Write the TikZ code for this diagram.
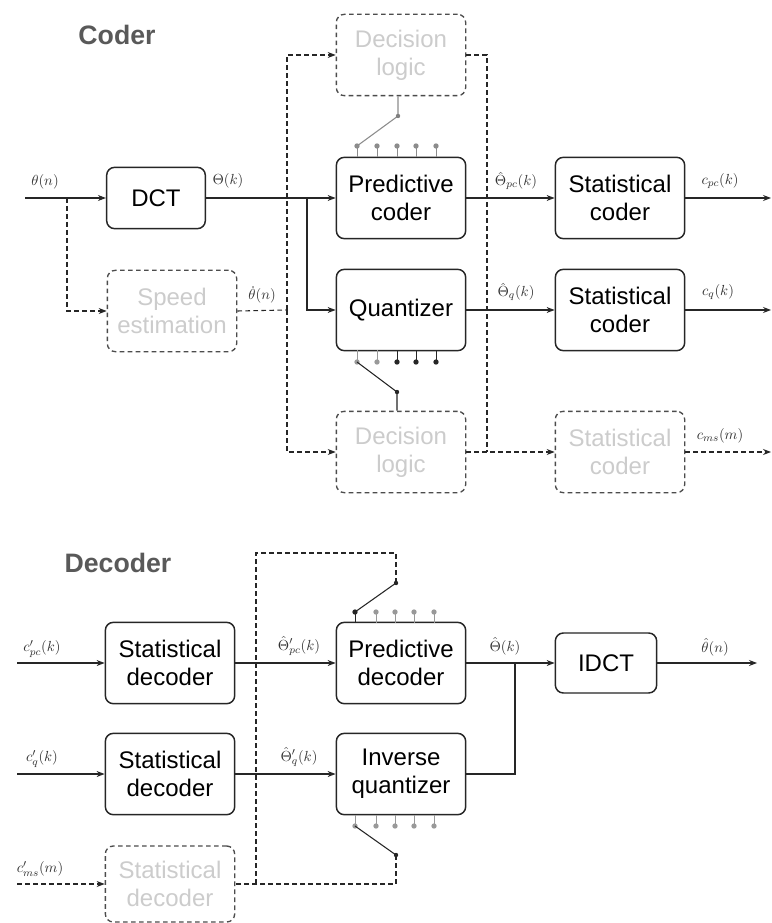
\documentclass[tikz,border=0pt]{standalone}
\usepackage{fontspec}
\setmainfont{Liberation Sans}
\usetikzlibrary{arrows.meta,calc}
\begin{document}
\begin{tikzpicture}[x=0.75pt,y=-0.75pt,
  blk/.style={draw=black!85, line width=1.1pt, rounded corners=6pt, align=center,
    font=\fontsize{18}{21}\selectfont, inner sep=0pt, minimum width=97pt, minimum height=61pt},
  fblk/.style={blk, dash pattern=on 3.5pt off 2.5pt, draw=black!70, line width=1pt, text=black!20},
  ln/.style={line width=0.8pt, draw=black!85},
  arr/.style={ln, -{Stealth[length=6pt,width=4.5pt]}},
  dsh/.style={dash pattern=on 3.5pt off 2.5pt},
  lbl/.style={font=\fontsize{11}{13}\selectfont, text=black!80, inner sep=1pt},
  ttl/.style={font=\bfseries\fontsize{20}{24}\selectfont, text=black!65},
  pin/.style={line width=0.7pt},
  pdot/.style={circle, fill, inner sep=0pt, minimum size=4pt}
]
\useasboundingbox[fill=white] (0,0) rectangle (771,923);

% ---------------- Coder ----------------
\node[ttl] (tc) at (117,35) {Coder};

\node[blk, minimum width=74pt, minimum height=46pt] (dct) at (156,198) {DCT};
\node[fblk] (spd) at (172,311) {Speed\\estimation};
\node[fblk] (dl1) at (401,55) {Decision\\logic};
\node[blk] (pc) at (401,198) {Predictive\\coder};
\node[blk] (qz) at (401,310) {Quantizer};
\node[fblk] (dl2) at (401,452) {Decision\\logic};
\node[blk] (sc1) at (620,198) {Statistical\\coder};
\node[blk] (sc2) at (620,310) {Statistical\\coder};
\node[fblk] (sc3) at (620,452) {Statistical\\coder};

\coordinate (in1) at (25,198);
\coordinate (b1) at (67,198);
\coordinate (b2) at (307,198);
\coordinate (dj) at (287,310);
\coordinate (dk) at (487,452);
\coordinate (o1) at (771,198);
\coordinate (o2) at (771,310);
\coordinate (o3) at (771,452);

\draw[arr] (in1) -- (dct.west);
\draw[arr] (dct.east) -- (pc.west);
\draw[arr] (b2) |- (qz.west);
\draw[arr] (pc.east) -- (sc1.west);
\draw[arr] (qz.east) -- (sc2.west);
\draw[arr] (sc1.east) -- (o1);
\draw[arr] (sc2.east) -- (o2);

\draw[arr, dsh] (b1) |- (spd.west);
\draw[ln, dsh] (spd.east) -- (dj);
\draw[arr, dsh] (dj) |- (dl1.west);
\draw[arr, dsh] (dj) |- (dl2.west);
\draw[ln, dsh] (dl1.east) -| (dk);
\draw[arr, dsh] (dl2.east) -- (sc3.west);
\draw[arr, dsh] (sc3.east) -- (o3);

% switch above predictive coder
\coordinate (p1) at (398,116);
\foreach \x in {357,377,397,416,436}{
  \draw[pin, black!45] (\x,157) -- (\x,146) node[pdot]{};
}
\draw[ln, black!45] (dl1.south -| p1) -- (p1) -- (357,146);
\fill[black!50] (p1) circle (2.2);

% switch below quantizer
\coordinate (p2) at (397,392);
\foreach \x/\c in {357/black!40,377/black!40,397/black!85,416/black!85,436/black!85}{
  \draw[pin, \c] (\x,350) -- (\x,362) node[pdot]{};
}
\draw[ln] (357,362) -- (p2) -- (dl2.north -| p2);
\fill[black!85] (p2) circle (2.2);

\node[lbl] (l1) at (45,182) {$\theta(n)$};
\node[lbl] (l2) at (228,181) {$\Theta(k)$};
\node[lbl] (l3) at (262,295) {$\dot\theta(n)$};
\node[lbl] (l4) at (516,181) {$\hat\Theta_{pc}(k)$};
\node[lbl] (l5) at (720,181) {$c_{pc}(k)$};
\node[lbl] (l6) at (516,292) {$\hat\Theta_{q}(k)$};
\node[lbl] (l7) at (718,292) {$c_{q}(k)$};
\node[lbl] (l8) at (720,436) {$c_{ms}(m)$};

% ---------------- Decoder ----------------
\node[ttl] (td) at (118,563) {Decoder};

\node[blk] (sd1) at (170,663) {Statistical\\decoder};
\node[blk] (sd2) at (170,774) {Statistical\\decoder};
\node[fblk, minimum height=57pt] (sd3) at (170,884) {Statistical\\decoder};
\node[blk] (pd) at (401,663) {Predictive\\decoder};
\node[blk] (iq) at (401,774) {Inverse\\quantizer};
\node[blk, minimum width=76pt, minimum height=45pt] (idct) at (606,663) {IDCT};

\coordinate (i1) at (17,663);
\coordinate (i2) at (17,774);
\coordinate (i3) at (17,884);
\coordinate (jn) at (515,663);
\coordinate (oo) at (757,663);
\coordinate (dv) at (256,884);
\coordinate (p3) at (396,583);
\coordinate (p4) at (396,855);

\draw[arr] (i1) -- (sd1.west);
\draw[arr] (i2) -- (sd2.west);
\draw[arr, dsh] (i3) -- (sd3.west);
\draw[arr] (sd1.east) -- (pd.west);
\draw[arr] (sd2.east) -- (iq.west);
\draw[arr] (pd.east) -- (idct.west);
\draw[ln] (iq.east) -| (jn);
\draw[arr] (idct.east) -- (oo);

% switch above predictive decoder
\foreach \x/\c in {355/black!85,376/black!40,395/black!40,414/black!40,434/black!40}{
  \draw[pin, \c] (\x,623) -- (\x,612) node[pdot]{};
}
\draw[ln] (355,612) -- (p3);
\fill[black!85] (p3) circle (2.2);
\draw[ln, dsh] (p3) -- (396,553) -| (dv);

% switch below inverse quantizer
\foreach \x in {355,376,395,414,434}{
  \draw[pin, black!40] (\x,815) -- (\x,826) node[pdot]{};
}
\draw[ln] (355,826) -- (p4);
\fill[black!85] (p4) circle (2.2);
\draw[ln, dsh] (p4) |- (sd3.east);

\node[lbl] (m1) at (42,649) {$c'_{pc}(k)$};
\node[lbl] (m2) at (299,646) {$\hat\Theta'_{pc}(k)$};
\node[lbl] (m3) at (505,646) {$\hat\Theta(k)$};
\node[lbl] (m4) at (715,647) {$\hat\theta(n)$};
\node[lbl] (m5) at (42,759) {$c'_{q}(k)$};
\node[lbl] (m6) at (299,757) {$\hat\Theta'_{q}(k)$};
\node[lbl] (m7) at (40,869) {$c'_{ms}(m)$};
\end{tikzpicture}
\end{document}
